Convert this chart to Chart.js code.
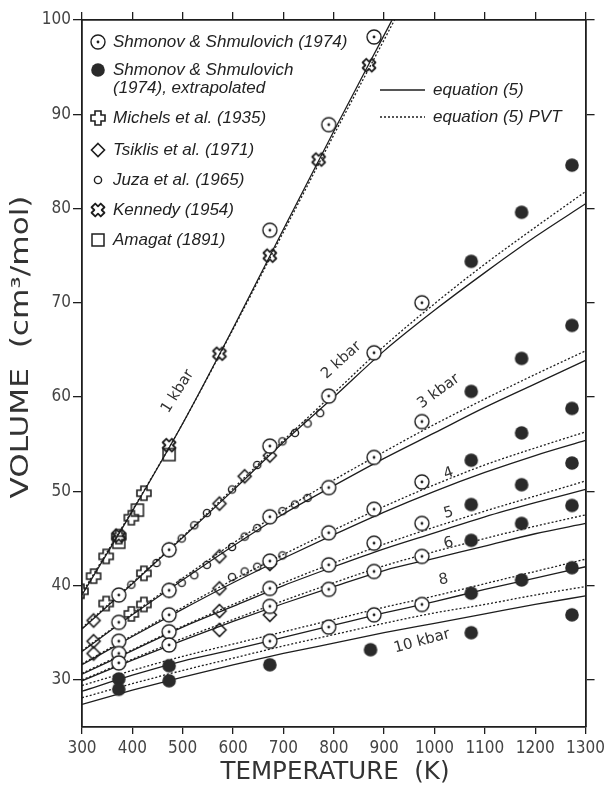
<!DOCTYPE html>
<html>
<head>
<meta charset="utf-8">
<script src="https://cdn.jsdelivr.net/npm/chart.js@4.4.0/dist/chart.umd.min.js"></script>
<style>
  html, body { margin: 0; padding: 0; background: #fff; }
</style>
</head>
<body>
<canvas id="chart" width="609" height="788"></canvas>
<script>
// equation (5) curves, solid = equation (5), pvt = equation (5) PVT
const lineT = [300, 400, 500, 600, 700, 800, 900, 1000, 1100, 1200, 1300];
const line1T = [300, 400, 500, 600, 700, 800, 900, 950];
const eq1 = [39.0, 47.9, 57.2, 67.3, 77.8, 88.2, 98.4, 103.5];
const eq1PVT = [39.2, 48.0, 57.2, 67.2, 77.5, 87.8, 97.9, 103.0];
const eq2 = [35.4, 40.2, 45.1, 50.1, 55.2, 60.0, 64.9, 69.2, 73.2, 77.0, 80.5];
const eq2PVT = [35.5, 40.3, 45.2, 50.3, 55.4, 60.4, 65.4, 69.9, 74.1, 78.0, 81.8];
const eq3 = [33.0, 36.9, 40.6, 44.2, 47.6, 50.6, 53.5, 56.2, 58.9, 61.4, 63.9];
const eq3PVT = [33.1, 37.0, 40.8, 44.5, 48.0, 51.2, 54.2, 57.1, 59.8, 62.4, 64.9];
const eq4 = [31.6, 34.6, 37.5, 40.3, 42.9, 45.4, 47.8, 50.0, 52.0, 53.8, 55.4];
const eq4PVT = [31.7, 34.7, 37.7, 40.6, 43.3, 45.9, 48.4, 50.7, 52.8, 54.6, 56.3];
const eq5 = [30.6, 33.1, 35.6, 37.8, 40.0, 42.0, 43.9, 45.6, 47.3, 48.8, 50.2];
const eq5PVT = [30.7, 33.2, 35.7, 38.0, 40.3, 42.4, 44.4, 46.2, 47.9, 49.5, 51.1];
const eq6 = [29.9, 32.1, 34.2, 36.2, 38.1, 39.9, 41.6, 42.9, 44.2, 45.5, 46.6];
const eq6PVT = [30.0, 32.2, 34.4, 36.4, 38.4, 40.3, 42.1, 43.6, 45.0, 46.3, 47.5];
const eq8 = [28.8, 30.5, 32.0, 33.2, 34.5, 35.8, 37.1, 38.3, 39.6, 40.8, 42.0];
const eq8PVT = [29.4, 31.0, 32.5, 33.8, 35.1, 36.4, 37.7, 38.9, 40.2, 41.5, 42.8];
const eq10 = [27.4, 28.9, 30.3, 31.6, 32.8, 33.9, 35.0, 36.0, 37.0, 38.0, 38.9];
const eq10PVT = [28.1, 29.6, 31.0, 32.3, 33.6, 34.8, 36.0, 37.1, 38.0, 39.0, 39.9];

// measured data
const shmonovT = [673, 790, 880,
  373, 473, 673, 790, 880, 975,
  373, 473, 673, 790, 880, 975,
  373, 473, 673, 790, 880, 975,
  373, 473, 673, 790, 880, 975,
  373, 473, 673, 790, 880, 975,
  673, 790, 880, 975];
const shmonovV = [77.7, 88.9, 98.2,
  39.0, 43.8, 54.8, 60.1, 64.7, 70.0,
  36.1, 39.5, 47.3, 50.4, 53.6, 57.4,
  34.1, 36.9, 42.6, 45.6, 48.1, 51.0,
  32.8, 35.1, 39.7, 42.2, 44.5, 46.6,
  31.8, 33.7, 37.8, 39.6, 41.5, 43.1,
  34.1, 35.6, 36.9, 38.0];
const extrapT = [1073, 1173, 1273, 1073, 1173, 1273, 1073, 1173, 1273,
  1073, 1173, 1273, 1073, 1173, 1273,
  373, 473, 1073, 1173, 1273,
  373, 473, 673, 873, 1073, 1273];
const extrapV = [74.4, 79.6, 84.6, 60.6, 64.1, 67.6, 53.3, 56.2, 58.8,
  48.6, 50.7, 53.0, 44.8, 46.6, 48.5,
  30.1, 31.5, 39.2, 40.6, 41.9,
  29.0, 29.9, 31.6, 33.2, 35.0, 36.9];
const michelsT = [298, 323, 348, 373, 398, 423, 348, 423, 398, 423];
const michelsV = [39.4, 41.0, 43.1, 45.2, 47.2, 49.8, 38.1, 41.3, 37.0, 38.0];
const tsiklisT = [323, 323, 323, 473, 473, 573, 573, 573, 573, 573, 623, 673, 673, 673];
const tsiklisV = [36.3, 34.1, 32.8, 43.8, 39.5, 48.7, 43.1, 39.7, 37.3, 35.3, 51.6, 53.8, 42.3, 36.9];
const juzaT = [398, 448, 498, 523, 548, 598, 648, 698, 723, 748, 773,
  498, 523, 548, 598, 623, 648, 698, 723, 748,
  598, 623, 648, 698];
const juzaV = [40.1, 42.4, 45.0, 46.4, 47.7, 50.2, 52.8, 55.3, 56.2, 57.2, 58.3,
  40.3, 41.1, 42.2, 44.1, 45.2, 46.1, 47.9, 48.6, 49.3,
  40.9, 41.5, 42.0, 43.2];
const kennedyT = [373, 473, 573, 673, 770, 870];
const kennedyV = [45.3, 54.9, 64.6, 75.0, 85.2, 95.2];
const amagatT = [373, 410, 473];
const amagatV = [44.6, 48.0, 53.9];

const xTicks = [300, 400, 500, 600, 700, 800, 900, 1000, 1100, 1200, 1300];
const yTicks = [30, 40, 50, 60, 70, 80, 90, 100];

const ink = "#1e1e1e";
const tickFont = { family: "'Liberation Sans Narrow', 'DejaVu Sans Condensed', sans-serif", size: 17 };

function pts(xs, ys) {
  return xs.map((x, i) => ({ x: x, y: ys[i] }));
}

// marker glyphs drawn once on small canvases
function makeSymbol(kind) {
  const s = 22, m = s / 2;
  const c = document.createElement("canvas");
  c.width = s; c.height = s;
  const g = c.getContext("2d");
  g.strokeStyle = ink; g.fillStyle = ink; g.lineWidth = 1.4;
  g.beginPath();
  if (kind === "dotCircle") {
    g.arc(m, m, 7, 0, Math.PI * 2);
    g.fillStyle = "#fff"; g.fill(); g.stroke();
    g.beginPath(); g.arc(m, m, 1.4, 0, Math.PI * 2);
    g.fillStyle = ink; g.fill();
  } else if (kind === "filled") {
    g.arc(m, m, 6.8, 0, Math.PI * 2);
    g.fillStyle = "#2a2a2a"; g.fill();
  } else if (kind === "cross") {
    const a = 7, w = 3;
    g.moveTo(m - w, m - a); g.lineTo(m + w, m - a); g.lineTo(m + w, m - w);
    g.lineTo(m + a, m - w); g.lineTo(m + a, m + w); g.lineTo(m + w, m + w);
    g.lineTo(m + w, m + a); g.lineTo(m - w, m + a); g.lineTo(m - w, m + w);
    g.lineTo(m - a, m + w); g.lineTo(m - a, m - w); g.lineTo(m - w, m - w);
    g.closePath(); g.lineWidth = 1.6; g.stroke();
  } else if (kind === "diamond") {
    g.moveTo(m, m - 6.5); g.lineTo(m + 6.5, m); g.lineTo(m, m + 6.5); g.lineTo(m - 6.5, m);
    g.closePath(); g.lineWidth = 1.6; g.stroke();
  } else if (kind === "small") {
    g.arc(m, m, 3.6, 0, Math.PI * 2); g.lineWidth = 1.4; g.stroke();
  } else if (kind === "kennedy") {
    g.translate(m, m); g.rotate(Math.PI / 4);
    const a = 6.5, w = 2.6;
    g.moveTo(-w, -a); g.lineTo(w, -a); g.lineTo(w, -w);
    g.lineTo(a, -w); g.lineTo(a, w); g.lineTo(w, w);
    g.lineTo(w, a); g.lineTo(-w, a); g.lineTo(-w, w);
    g.lineTo(-a, w); g.lineTo(-a, -w); g.lineTo(-w, -w);
    g.closePath(); g.lineJoin = "round"; g.lineWidth = 1.8; g.stroke();
  } else if (kind === "square") {
    g.rect(m - 6, m - 6, 12, 12); g.lineWidth = 1.5; g.stroke();
  }
  return c;
}

const sym = {};
["dotCircle", "filled", "cross", "diamond", "small", "kennedy", "square"].forEach(k => sym[k] = makeSymbol(k));

function markers(label, xs, ys, kind) {
  return { label: label, data: pts(xs, ys), pointStyle: sym[kind], pointRadius: 6, showLine: false, order: 0 };
}
function curve(label, xs, ys, dotted) {
  return {
    label: label, data: pts(xs, ys), showLine: true, pointRadius: 0,
    borderColor: ink, borderWidth: 1.3, borderDash: dotted ? [2, 2] : [],
    cubicInterpolationMode: "monotone", order: 1
  };
}

const solidSets = [[line1T, eq1], [lineT, eq2], [lineT, eq3], [lineT, eq4], [lineT, eq5], [lineT, eq6], [lineT, eq8], [lineT, eq10]];
const pvtSets = [[line1T, eq1PVT], [lineT, eq2PVT], [lineT, eq3PVT], [lineT, eq4PVT], [lineT, eq5PVT], [lineT, eq6PVT], [lineT, eq8PVT], [lineT, eq10PVT]];

const datasets = [
  markers("Shmonov & Shmulovich (1974)", shmonovT, shmonovV, "dotCircle"),
  markers("Shmonov & Shmulovich (1974), extrapolated", extrapT, extrapV, "filled"),
  markers("Michels et al. (1935)", michelsT, michelsV, "cross"),
  markers("Tsiklis et al. (1971)", tsiklisT, tsiklisV, "diamond"),
  markers("Juza et al. (1965)", juzaT, juzaV, "small"),
  markers("Kennedy (1954)", kennedyT, kennedyV, "kennedy"),
  markers("Amagat (1891)", amagatT, amagatV, "square")
];
solidSets.forEach(s => datasets.push(curve("equation (5)", s[0], s[1], false)));
pvtSets.forEach(s => datasets.push(curve("equation (5) PVT", s[0], s[1], true)));

// text drawn on the plot: isobar labels and the two legends
const isobarLabels = [
  { text: "1 kbar", t: 490, v: 60.6, angle: -58 },
  { text: "2 kbar", t: 815, v: 63.9, angle: -42 },
  { text: "3 kbar", t: 1008, v: 60.6, angle: -36 },
  { text: "4", t: 1028, v: 51.9, angle: -20 },
  { text: "5", t: 1028, v: 47.7, angle: -15 },
  { text: "6", t: 1028, v: 44.5, angle: -15 },
  { text: "8", t: 1018, v: 40.6, angle: -10 },
  { text: "10 kbar", t: 975, v: 34.1, angle: -15 }
];
const markerLegend = [
  { kind: "dotCircle", y: 42, lines: ["Shmonov & Shmulovich (1974)"] },
  { kind: "filled", y: 70, lines: ["Shmonov & Shmulovich", "(1974), extrapolated"] },
  { kind: "cross", y: 118, lines: ["Michels et al. (1935)"] },
  { kind: "diamond", y: 150, lines: ["Tsiklis et al. (1971)"] },
  { kind: "small", y: 180, lines: ["Juza et al. (1965)"] },
  { kind: "kennedy", y: 210, lines: ["Kennedy (1954)"] },
  { kind: "square", y: 240, lines: ["Amagat (1891)"] }
];
const lineLegend = [
  { text: "equation (5)", y: 90, dotted: false },
  { text: "equation (5) PVT", y: 117, dotted: true }
];

function stretched(ctx, text, x, y, width, angle) {
  ctx.save();
  ctx.translate(x, y);
  ctx.rotate(angle);
  const w = ctx.measureText(text).width;
  ctx.scale(width / w, 1);
  ctx.fillText(text, 0, 0);
  ctx.restore();
}

const decorations = {
  id: "decorations",
  afterDraw(chart) {
    const ctx = chart.ctx;
    const xs = chart.scales.x, ys = chart.scales.y;
    ctx.save();
    ctx.fillStyle = "#333";
    ctx.textAlign = "center";
    ctx.textBaseline = "middle";

    // axis titles
    ctx.font = "24px 'DejaVu Sans', sans-serif";
    stretched(ctx, "TEMPERATURE  (K)", 335, 773, 229, 0);
    stretched(ctx, "VOLUME  (cm³/mol)", 22, 347, 303, -Math.PI / 2);

    // isobar labels
    ctx.font = "15px 'DejaVu Sans', sans-serif";
    isobarLabels.forEach(l => {
      ctx.save();
      ctx.translate(xs.getPixelForValue(l.t), ys.getPixelForValue(l.v));
      ctx.rotate(l.angle * Math.PI / 180);
      ctx.fillText(l.text, 0, 0);
      ctx.restore();
    });

    // marker legend
    ctx.fillStyle = "#222";
    ctx.textAlign = "left";
    ctx.font = "italic 17px 'Liberation Sans', Arial, sans-serif";
    markerLegend.forEach(item => {
      const img = sym[item.kind];
      ctx.drawImage(img, 98 - img.width / 2, item.y - img.height / 2);
      item.lines.forEach((line, i) => ctx.fillText(line, 113, item.y + i * 18));
    });

    // line legend
    lineLegend.forEach(item => {
      ctx.beginPath();
      ctx.strokeStyle = ink;
      ctx.lineWidth = 1.3;
      ctx.setLineDash(item.dotted ? [2, 2] : []);
      ctx.moveTo(380, item.y);
      ctx.lineTo(425, item.y);
      ctx.stroke();
      ctx.setLineDash([]);
      ctx.fillText(item.text, 433, item.y);
    });
    ctx.restore();
  }
};

const tickGrid = (len) => ({ drawOnChartArea: false, drawTicks: true, tickLength: len, color: ink, lineWidth: 1.3 });
const axisBorder = { color: ink, width: 1.8 };

new Chart(document.getElementById("chart").getContext("2d"), {
  type: "scatter",
  data: { datasets: datasets },
  options: {
    responsive: false,
    animation: false,
    layout: { padding: 0 },
    plugins: { legend: { display: false }, tooltip: { enabled: false } },
    scales: {
      x: {
        type: "linear", position: "bottom", min: 300, max: 1300,
        afterBuildTicks: s => { s.ticks = xTicks.map(v => ({ value: v })); },
        afterFit: s => { s.height = 61; },
        ticks: { font: tickFont, color: "#444", padding: 4, maxRotation: 0, callback: v => String(v) },
        grid: tickGrid(7), border: axisBorder
      },
      x2: {
        axis: "x", type: "linear", position: "top", min: 300, max: 1300,
        afterBuildTicks: s => { s.ticks = xTicks.map(v => ({ value: v })); },
        afterFit: s => { s.height = 20; },
        ticks: { display: false },
        grid: tickGrid(8), border: axisBorder
      },
      y: {
        type: "linear", position: "left", min: 25, max: 100,
        afterBuildTicks: s => { s.ticks = yTicks.map(v => ({ value: v })); },
        afterFit: s => { s.width = 82; },
        ticks: { font: tickFont, color: "#444", padding: 2, callback: v => String(v) },
        grid: tickGrid(9), border: axisBorder
      },
      y2: {
        axis: "y", type: "linear", position: "right", min: 25, max: 100,
        afterBuildTicks: s => { s.ticks = yTicks.map(v => ({ value: v })); },
        afterFit: s => { s.width = 20; },
        ticks: { display: false },
        grid: tickGrid(9), border: axisBorder
      }
    }
  },
  plugins: [decorations]
});
</script>
</body>
</html>
